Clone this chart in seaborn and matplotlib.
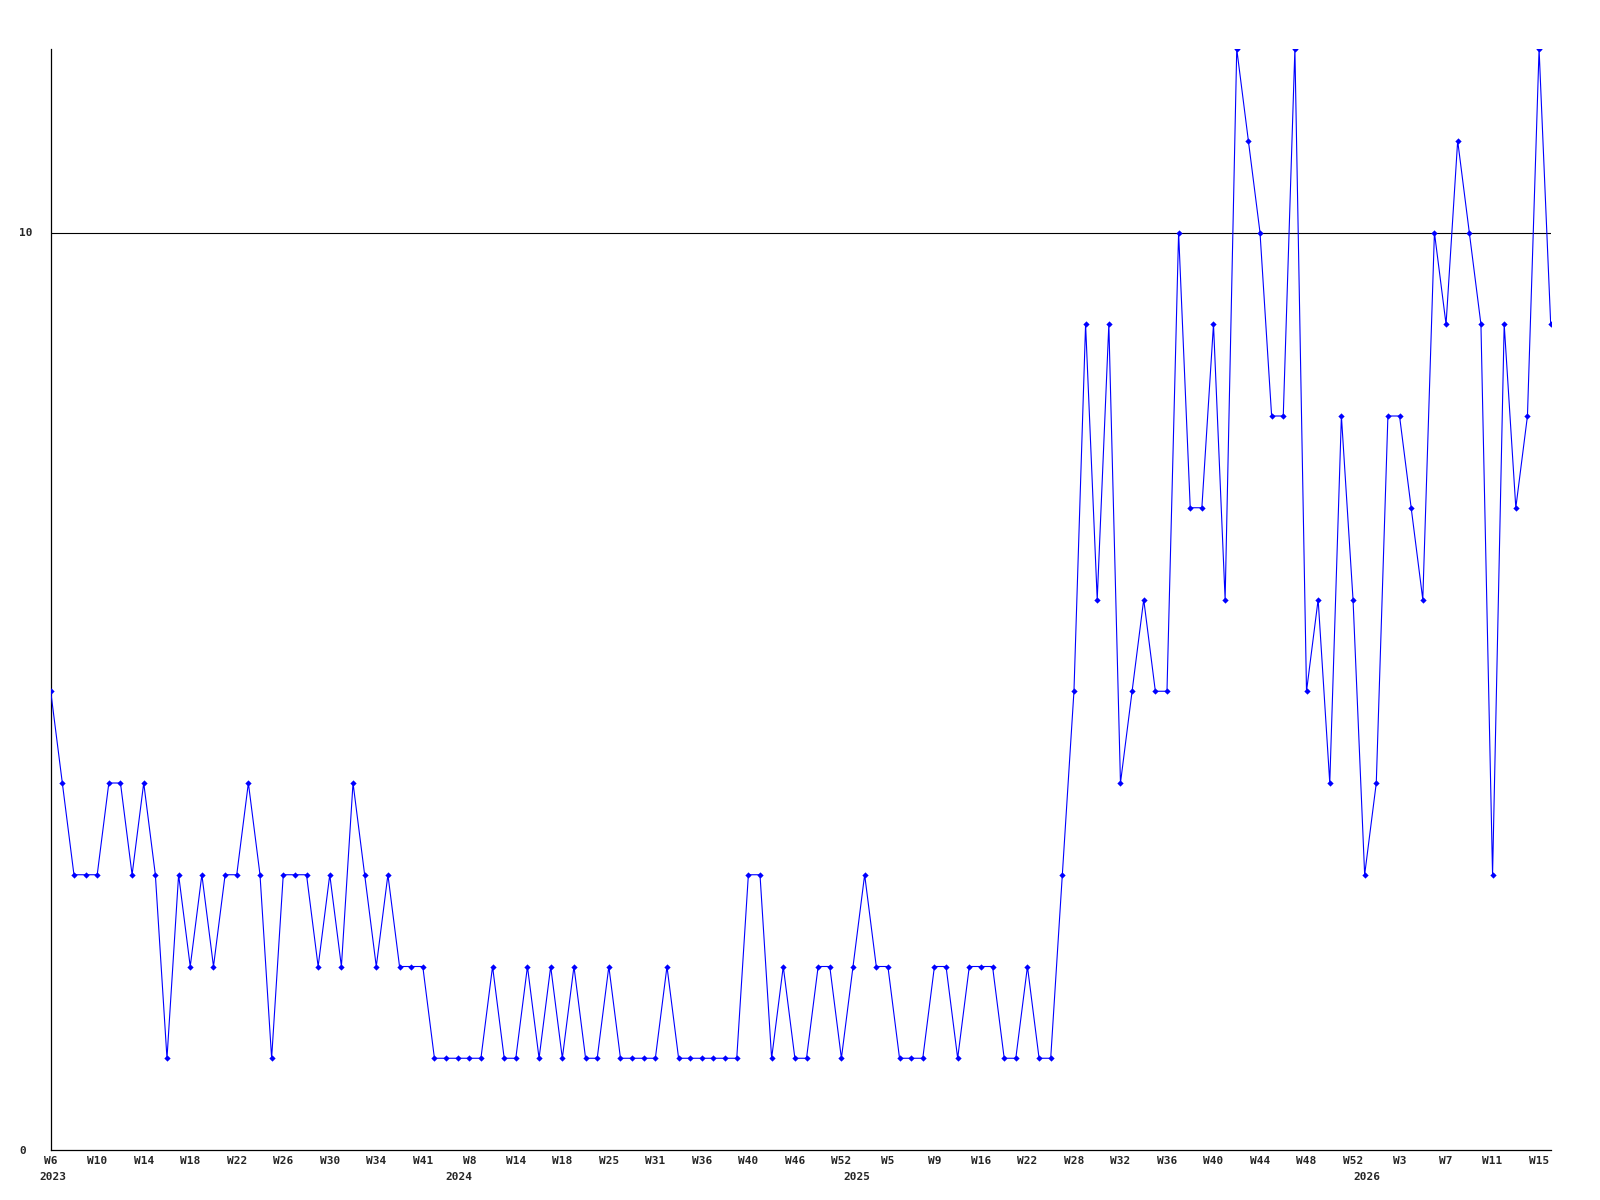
import matplotlib
matplotlib.use("Agg")
import matplotlib.pyplot as plt
import matplotlib.transforms as mtransforms
import seaborn as sns
import pandas as pd

# weekly counts, one per plotted week (gaps in the calendar are skipped)
counts = [5, 4, 3, 3, 3, 4, 4, 3, 4, 3, 1, 3, 2, 3, 2, 3, 3, 4, 3, 1,
          3, 3, 3, 2, 3, 2, 4, 3, 2, 3, 2, 2, 2, 1,
          1, 1, 1, 1, 2, 1, 1, 2, 1, 2, 1, 2, 1, 1, 2, 1, 1, 1, 1, 2,
          1, 1, 1, 1, 1, 1, 3, 3, 1, 2, 1, 1, 2,
          2, 1, 2, 3, 2, 2, 1, 1, 1, 2, 2, 1, 2, 2, 2, 1, 1, 2, 1, 1, 3,
          5, 9, 6, 9, 4, 5, 6, 5, 5, 10, 7, 7, 9, 6, 12, 11, 10, 8, 8, 12,
          5, 6, 4, 8, 6, 3, 4, 8, 8, 7, 6, 10, 9, 11, 10, 9, 3, 9, 7, 8, 12, 9]

# a week label on every 4th point
week_labels = ['W6', 'W10', 'W14', 'W18', 'W22', 'W26', 'W30', 'W34', 'W41',
               'W8', 'W14', 'W18', 'W25', 'W31', 'W36', 'W40', 'W46', 'W52',
               'W5', 'W9', 'W16', 'W22', 'W28', 'W32', 'W36', 'W40', 'W44',
               'W48', 'W52', 'W3', 'W7', 'W11', 'W15']
years = ['2023', '2024', '2025', '2026']
year_at = [0.2, 35.1, 69.3, 113.2]   # point index the year label sits under

df = pd.DataFrame({'week': range(len(counts)), 'count': counts})

sns.set_style("white")
mono = ['DejaVu Sans Mono']
plt.rcParams['font.family'] = mono

fig = plt.figure(figsize=(16, 12), dpi=100)
ax = fig.add_axes([50.7 / 1600, 1 - 1150 / 1200, 1500 / 1600, 1101 / 1200])

ax.axhline(10, color='black', lw=0.8, zorder=1)
sns.lineplot(data=df, x='week', y='count', color='#0000ff', lw=0.8,
             marker='D', markersize=3.2, markeredgewidth=0, ax=ax, zorder=3)

ax.set_xlim(0, len(counts) - 1)
ax.set_ylim(0, 12)
ax.set_xlabel('')
ax.set_ylabel('')

ax.set_yticks([0, 10])
ax.set_yticklabels(['0', '10'], fontsize=8, fontweight='bold')
for lab in ax.get_yticklabels():
    lab.set_ha('left')
ax.tick_params(axis='y', length=0, pad=22.5)

ax.set_xticks(range(0, 4 * len(week_labels), 4))
ax.set_xticklabels(week_labels, fontsize=8, fontweight='bold')
ax.tick_params(axis='x', length=0, pad=4)

trans = mtransforms.blended_transform_factory(ax.transData, ax.transAxes)
for yr, pos in zip(years, year_at):
    ax.text(pos, -27 / 1101, yr, transform=trans, ha='center', va='center',
            fontsize=8, fontweight='bold')

sns.despine(ax=ax)
for side in ['left', 'bottom']:
    ax.spines[side].set_color('black')
    ax.spines[side].set_linewidth(0.9)

fig.savefig('out.png', dpi=100)
